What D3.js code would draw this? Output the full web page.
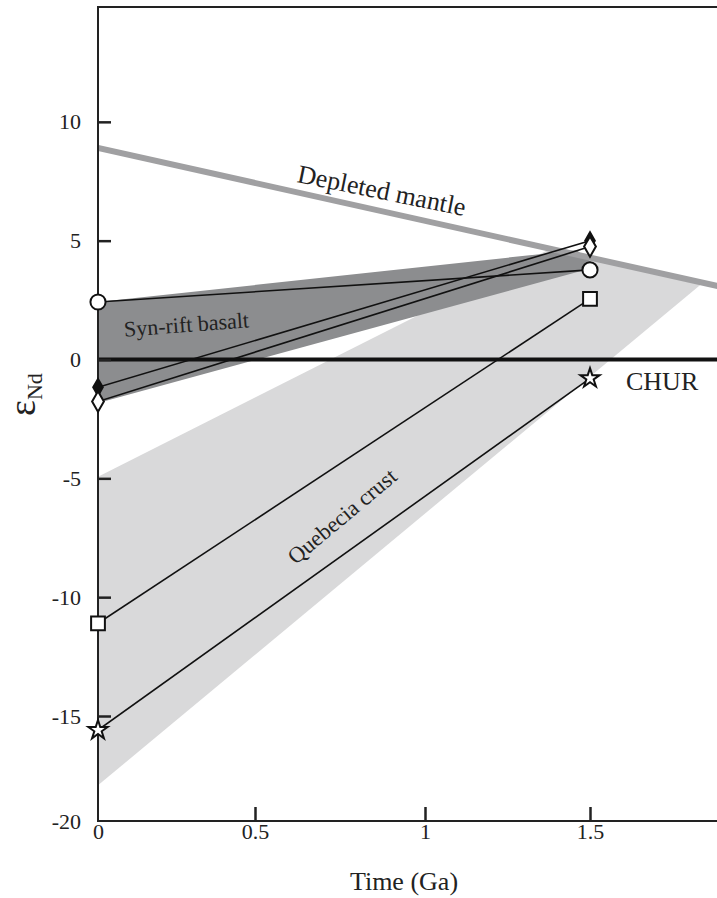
<!DOCTYPE html>
<html>
<head>
<meta charset="utf-8">
<script src="https://cdn.jsdelivr.net/npm/d3@7"></script>
<style>
  html, body { margin: 0; padding: 0; background: #fff; }
  svg { display: block; font-family: "Liberation Serif", "Times New Roman", serif; }
</style>
</head>
<body>
<svg id="chart" width="717" height="898"></svg>
<script>
// ---- data (time in Ga, epsilon Nd) ----
const xTicks = [0, 0.5, 1, 1.5];
const xTickLabels = ["0", "0.5", "1", "1.5"];
const yTicks = [-20, -15, -10, -5, 0, 5, 10];
const yTickLabels = ["-20", "-15", "-10", "-5", "0", "5", "10"];

// depleted mantle evolution line
const dmTime = [0, 1.887];
const dmEps = [8.9, 3.09];

// CHUR reference
const churTime = [0, 1.887];
const churEps = [0, 0];

// shaded fields
const crustTime = [0, 1.38, 1.835, 0];
const crustEps = [-4.93, 4.66, 3.15, -18.3];
const basaltTime = [0, 1.46, 1.52, 0];
const basaltEps = [2.42, 4.6, 3.9, -1.83];

// sample evolution lines: value today (0 Ga) and at 1.5 Ga
const sampleNames = ["circle", "filledDiamond", "openDiamond", "square", "star"];
const sampleTime = [0, 1.5];
const samplePresent = [2.42, -1.17, -1.77, -11.1, -15.67];
const sampleAt15 = [3.77, 5.0, 4.75, 2.55, -0.79];

// ---- scales ----
const mLeft = 98, mRight = 717, mTop = 7, mBottom = 821;
const x = d3.scaleLinear().domain([0, 0.5, 1, 1.5]).range([98, 255, 425, 590]);
const y = d3.scaleLinear().domain([-20, -15, 15]).range([821, 716, 3]);

const svg = d3.select("#chart");

svg.append("defs").append("clipPath").attr("id", "plotClip")
  .append("rect").attr("x", mLeft).attr("y", mTop).attr("width", mRight - mLeft).attr("height", mBottom - mTop);
const plot = svg.append("g").attr("clip-path", "url(#plotClip)");

const poly = (ts, es) => ts.map((t, i) => [x(t), y(es[i])]);

// shaded fields
plot.append("polygon")
  .attr("points", poly(crustTime, crustEps).join(" "))
  .attr("fill", "#d9d9da");
plot.append("polygon")
  .attr("points", poly(basaltTime, basaltEps).join(" "))
  .attr("fill", "#8c8d8f");

const line = d3.line();

// depleted mantle
plot.append("path")
  .attr("d", line(poly(dmTime, dmEps)))
  .attr("stroke", "#a0a0a2").attr("stroke-width", 6).attr("fill", "none");

// CHUR
plot.append("path")
  .attr("d", line(poly(churTime, churEps)))
  .attr("stroke", "#111").attr("stroke-width", 4).attr("fill", "none");

// sample lines
sampleNames.forEach((n, i) => {
  plot.append("path")
    .attr("d", line([[x(sampleTime[0]), y(samplePresent[i])], [x(sampleTime[1]), y(sampleAt15[i])]]))
    .attr("stroke", "#111").attr("stroke-width", 1.6).attr("fill", "none");
});

// axes frame
const frame = svg.append("g").attr("stroke", "#222").attr("stroke-width", 2).attr("fill", "none");
frame.append("path").attr("d", `M${mRight},${mTop}H${mLeft}V${mBottom}H${mRight}`);

// y axis ticks (inward) + labels
const yAxis = d3.axisLeft(y)
  .tickValues(yTicks)
  .tickFormat((d, i) => yTickLabels[i])
  .tickSizeInner(-13).tickSizeOuter(0).tickPadding(17);
const gy = svg.append("g").attr("transform", `translate(${mLeft},0)`).call(yAxis);
gy.select(".domain").remove();
gy.selectAll(".tick line").attr("stroke", "#222").attr("stroke-width", 2.5);
gy.selectAll(".tick").filter(d => d === -20).select("line").remove();
gy.selectAll(".tick text")
  .attr("font-family", "Liberation Serif, serif").attr("font-size", 22).attr("fill", "#222");

// x axis ticks (inward) + labels
const xAxis = d3.axisBottom(x)
  .tickValues(xTicks)
  .tickFormat((d, i) => xTickLabels[i])
  .tickSizeInner(-14).tickSizeOuter(0).tickPadding(14);
const gx = svg.append("g").attr("transform", `translate(0,${mBottom})`).call(xAxis);
gx.select(".domain").remove();
gx.selectAll(".tick line").attr("stroke", "#222").attr("stroke-width", 2.5);
gx.selectAll(".tick").filter(d => d === 0).select("line").remove();
gx.selectAll(".tick text")
  .attr("font-family", "Liberation Serif, serif").attr("font-size", 22).attr("fill", "#222")
  .attr("dy", "0.2em");

// axis titles
svg.append("text")
  .attr("x", 404).attr("y", 890)
  .attr("text-anchor", "middle").attr("font-size", 26).attr("fill", "#222")
  .text("Time (Ga)");

const yt = svg.append("text")
  .attr("transform", "translate(35,416) rotate(-90)")
  .attr("fill", "#222");
yt.append("tspan").attr("font-size", 38).text("ε");
yt.append("tspan").attr("font-size", 22).attr("dy", 7).text("Nd");

// sample markers
const sym = (type, size) => d3.symbol().type(type).size(size)();
const markerStyle = {
  circle: { type: d3.symbolCircle, size: 180, fill: "#fff" },
  filledDiamond: { type: d3.symbolDiamond, size: 80, fill: "#111" },
  openDiamond: { type: d3.symbolDiamond, size: 120, fill: "#fff" },
  square: { type: d3.symbolSquare, size: 190, fill: "#fff" },
  star: { type: d3.symbolStar, size: 115, fill: "#fff" }
};
sampleNames.forEach((n, i) => {
  const s = markerStyle[n];
  [[sampleTime[0], samplePresent[i]], [sampleTime[1], sampleAt15[i]]].forEach(p => {
    svg.append("path")
      .attr("d", sym(s.type, s.size))
      .attr("transform", `translate(${x(p[0])},${y(p[1])})`)
      .attr("fill", s.fill).attr("stroke", "#111").attr("stroke-width", 2);
  });
});

// field and curve labels
svg.append("text")
  .attr("transform", "translate(380,199) rotate(11.5)")
  .attr("text-anchor", "middle").attr("font-size", 26).attr("fill", "#222")
  .text("Depleted mantle");
svg.append("text")
  .attr("transform", "translate(187,332) rotate(-4.3)")
  .attr("text-anchor", "middle").attr("font-size", 22).attr("fill", "#222")
  .text("Syn-rift basalt");
svg.append("text")
  .attr("transform", "translate(347,522) rotate(-40)")
  .attr("text-anchor", "middle").attr("font-size", 22.5).attr("fill", "#222")
  .text("Quebecia crust");
svg.append("text")
  .attr("x", 626).attr("y", 390)
  .attr("font-size", 26).attr("fill", "#222")
  .text("CHUR");
</script>
</body>
</html>
